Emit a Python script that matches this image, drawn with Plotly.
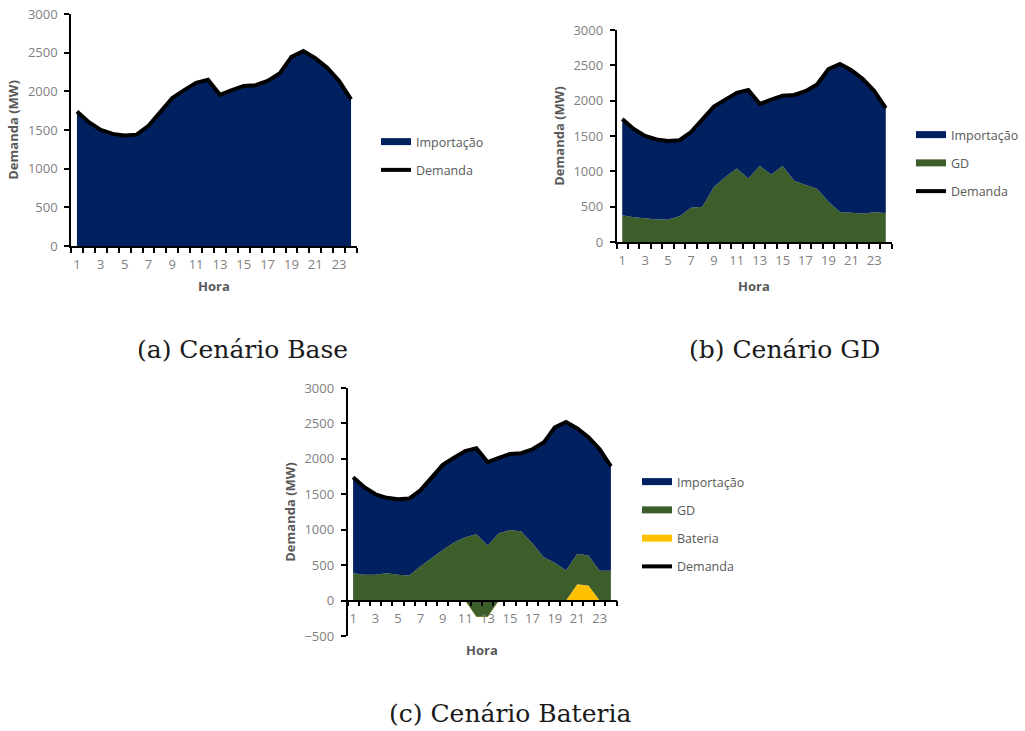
import plotly.graph_objects as go

# ---------------- data ----------------
horas = list(range(1, 25))
rotulos_x = [str(h) for h in range(1, 24, 2)]
ticks_y = [0, 500, 1000, 1500, 2000, 2500, 3000]
ticks_y_c = [-500, 0, 500, 1000, 1500, 2000, 2500, 3000]

demanda = [1740, 1600, 1500, 1450, 1430, 1440, 1555, 1730, 1915, 2015, 2110, 2150,
           1955, 2015, 2070, 2080, 2135, 2230, 2445, 2520, 2430, 2305, 2135, 1895]

gd_b = [380, 350, 335, 320, 320, 365, 485, 500, 780, 920, 1040, 900,
        1075, 955, 1075, 865, 805, 755, 570, 425, 415, 405, 420, 410]

gd_c = [385, 365, 365, 385, 365, 355, 480, 600, 715, 820, 895, 1165,
        1005, 950, 995, 975, 810, 610, 535, 425, 430, 425, 420, 420]

bateria_c = [0, 0, 0, 0, 0, 0, 0, 0, 0, 0, 0, -228,
             -228, 0, 0, 0, 0, 0, 0, 0, 230, 212, 0, 0]

legenda_a = ["Importação", "Demanda"]
legenda_b = ["Importação", "GD", "Demanda"]
legenda_c = ["Importação", "GD", "Bateria", "Demanda"]
legendas = ["(a) Cenário Base", "(b) Cenário GD", "(c) Cenário Bateria"]

importacao_a = list(demanda)
importacao_b = [d - g for d, g in zip(demanda, gd_b)]
importacao_c = [d - g - b for d, g, b in zip(demanda, gd_c, bateria_c)]

# ---------------- style ----------------
W, H = 1025, 731
OFF = 0  # body margin removed by post_script
AZUL = "#002060"
VERDE = "#3d5e2b"
AMARELO = "#ffc000"
CINZA_TICK = "#7f7f7f"
CINZA_TIT = "#595959"
FONTE = "Open Sans"

cores = {"Importação": AZUL, "GD": VERDE, "Bateria": AMARELO, "Demanda": "black"}

fig = go.Figure()


def area(x, y, color, xa, ya, grupo):
    fig.add_trace(go.Scatter(x=x, y=y, mode="lines", stackgroup=grupo,
                             line=dict(width=0, color=color), fillcolor=color,
                             xaxis=xa, yaxis=ya, showlegend=False, hoverinfo="skip"))


def linha_demanda(xa, ya):
    fig.add_trace(go.Scatter(x=horas, y=demanda, mode="lines",
                             line=dict(color="black", width=4),
                             xaxis=xa, yaxis=ya, showlegend=False, hoverinfo="skip"))


def itens_legenda(nomes, leg):
    for i, n in enumerate(nomes):
        w = 4 if n == "Demanda" else 7
        fig.add_trace(go.Scatter(x=[None], y=[None], mode="lines", name=n,
                                 line=dict(color=cores[n], width=w),
                                 legend=leg, legendgroup=leg + str(i), showlegend=True))


# (a)
area(horas, importacao_a, AZUL, "x", "y", "a")
linha_demanda("x", "y")
itens_legenda(legenda_a, "legend")
# (b)
area(horas, gd_b, VERDE, "x2", "y2", "b")
area(horas, importacao_b, AZUL, "x2", "y2", "b")
linha_demanda("x2", "y2")
itens_legenda(legenda_b, "legend2")
# (c)
area(horas, bateria_c, AMARELO, "x3", "y3", "c")
area(horas, gd_c, VERDE, "x3", "y3", "c")
area(horas, importacao_c, AZUL, "x3", "y3", "c")
linha_demanda("x3", "y3")
itens_legenda(legenda_c, "legend3")


def px_x(p):
    return (p - OFF) / W


def px_y(p):
    return 1 - (p - OFF) / H


def eixo_x(x0, x1, standoff, **kw):
    d = dict(domain=[px_x(x0), px_x(x1)], range=[0.5, 24.5], automargin=False,
             tickvals=list(range(1, 24, 2)), ticktext=rotulos_x, ticks="",
             showline=True, linecolor="black", linewidth=1.5, showgrid=False,
             zeroline=False, tickfont=dict(family=FONTE, size=13, color=CINZA_TICK),
             ticklabelstandoff=6, ticklabeloverflow="allow",
             minor=dict(ticks="outside", tick0=0.5, dtick=1, ticklen=5,
                        tickwidth=1.5, tickcolor="black", showgrid=False),
             title=dict(text="<b>Hora</b>", standoff=standoff,
                        font=dict(family=FONTE, size=13, color=CINZA_TIT)))
    d.update(kw)
    return d


def eixo_y(y_top, y_bot, rng, tv, **kw):
    d = dict(domain=[px_y(y_bot), px_y(y_top)], range=rng, tickvals=tv, automargin=False,
             ticks="outside", ticklen=5, tickwidth=1.5, tickcolor="black",
             showline=True, linecolor="black", linewidth=1.5, showgrid=False,
             zeroline=False, tickfont=dict(family=FONTE, size=13, color=CINZA_TICK),
             ticklabelstandoff=4, ticklabeloverflow="allow",
             title=dict(text="<b>Demanda (MW)</b>", standoff=6,
                        font=dict(family=FONTE, size=13, color=CINZA_TIT)))
    d.update(kw)
    return d


# y=0 position for (c)
yc_top, yc_bot = 388, 636
y0_c_px = yc_top + (3000 - 0) / (3000 - (-500)) * (yc_bot - yc_top)

leg_style = dict(font=dict(family=FONTE, size=12.5, color=CINZA_TIT),
                 bgcolor="rgba(0,0,0,0)", tracegroupgap=9, itemwidth=30,
                 xanchor="left", yanchor="top")

fig.update_layout(
    width=W, height=H, margin=dict(l=0, r=0, t=0, b=0, autoexpand=False),
    paper_bgcolor="white", plot_bgcolor="white", showlegend=True,
    xaxis=eixo_x(71, 357, 10, anchor="y"),
    yaxis=eixo_y(14, 246, [0, 3000], ticks_y, anchor="x"),
    xaxis2=eixo_x(616.5, 891.5, 14, anchor="y2"),
    yaxis2=eixo_y(30, 242, [0, 3000], ticks_y, anchor="x2"),
    xaxis3=eixo_x(347.5, 616.5, 19, anchor="free", position=px_y(y0_c_px)),
    yaxis3=eixo_y(yc_top, yc_bot, [-500, 3000], ticks_y_c, anchor="x3"),
    legend=dict(x=px_x(376), y=px_y(127), **leg_style),
    legend2=dict(x=px_x(911), y=px_y(120), **leg_style),
    legend3=dict(x=px_x(637), y=px_y(467), **leg_style),
)

caps = [(242, 349), (784, 349), (510, 713)]
for txt, (cx, cy) in zip(legendas, caps):
    fig.add_annotation(text=txt, x=px_x(cx), y=px_y(cy), xref="paper", yref="paper",
                       showarrow=False, xanchor="center", yanchor="middle",
                       font=dict(family="DejaVu Serif", size=25, color="#1a1a1a"))

fig.write_html("out.html", config={"displayModeBar": False},
               post_script="document.body.style.margin='0';document.body.style.overflow='hidden';")
